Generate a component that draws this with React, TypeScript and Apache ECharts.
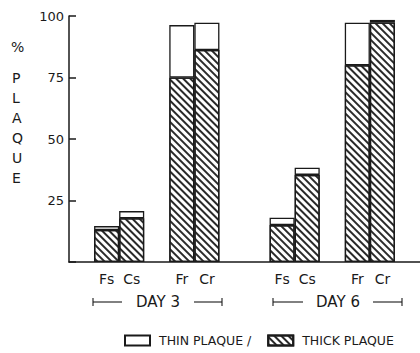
import React, { useEffect, useRef } from "react";
import * as echarts from "echarts";

const categories = ["", "Fs", "Cs", "", "Fr", "Cr", "", "", "Fs", "Cs", "", "Fr", "Cr", ""];
const thickValues: (number | null)[] = [null, 13, 17.8, null, 75, 86.2, null, null, 15, 35.4, null, 80, 97.4, null];
const totalValues: (number | null)[] = [null, 14.6, 20.7, null, 96.3, 97.3, null, null, 18, 38.3, null, 97.3, 98.4, null];
const yTicks = [0, 25, 50, 75, 100];
const groupLabels = ["DAY 3", "DAY 6"];
const seriesNames = ["THIN PLAQUE /", "THICK PLAQUE"];

const thinValues = totalValues.map((t, i) =>
  t == null || thickValues[i] == null ? null : +(t - (thickValues[i] as number)).toFixed(2)
);

const FONT = "DejaVu Sans";
const INK = "#1a1a1a";

export default function App() {
  const ref = useRef<HTMLDivElement>(null);
  useEffect(() => {
    if (!ref.current) return;
    const chart = echarts.init(ref.current, undefined, { renderer: "svg" });
    const hatch = {
      symbol: "rect",
      symbolSize: 1,
      color: "#2a2a2a",
      backgroundColor: "#ffffff",
      dashArrayX: [1, 0],
      dashArrayY: [1.2, 2.2],
      rotation: Math.PI / 4,
    };
    const groupLine = (x1: number, x2: number, y: number) => [
      { type: "line", shape: { x1, y1: y, x2, y2: y }, style: { stroke: INK, lineWidth: 1.1 } },
    ];
    const cap = (x: number, y: number) => ({
      type: "line",
      shape: { x1: x, y1: y - 4, x2: x, y2: y + 4 },
      style: { stroke: INK, lineWidth: 1.1 },
    });
    chart.setOption({
      animation: false,
      grid: { left: 69, top: 16, bottom: 91, right: -7.4, containLabel: false },
      legend: {
        left: 119,
        top: 329,
        itemWidth: 25,
        itemHeight: 10,
        itemGap: 16,
        icon: "rect",
        data: seriesNames,
        textStyle: { fontFamily: FONT, fontSize: 12.5, color: INK, padding: [0, 0, 0, 4] },
        selectedMode: false,
      },
      xAxis: {
        type: "category",
        data: categories,
        axisLine: { lineStyle: { color: INK, width: 1.5 } },
        axisTick: { show: false },
        axisLabel: { fontFamily: FONT, fontSize: 14, color: INK, margin: 10, interval: 0 },
      },
      yAxis: {
        type: "value",
        min: yTicks[0],
        max: yTicks[yTicks.length - 1],
        interval: 25,
        splitLine: { show: false },
        axisLine: { show: true, lineStyle: { color: INK, width: 1.5 } },
        axisTick: { show: true, inside: true, length: 7, lineStyle: { color: INK, width: 1.5 } },
        axisLabel: {
          fontFamily: FONT,
          fontSize: 13,
          color: INK,
          margin: 5,
          formatter: (v: number) => (v === 0 ? "" : String(v)),
        },
      },
      series: [
        {
          name: seriesNames[1],
          type: "bar",
          stack: "p",
          data: thickValues,
          barWidth: "100%",
          itemStyle: { color: "#ffffff", borderColor: INK, borderWidth: 1.3, decal: hatch },
        },
        {
          name: seriesNames[0],
          type: "bar",
          stack: "p",
          data: thinValues,
          barWidth: "100%",
          itemStyle: { color: "#ffffff", borderColor: INK, borderWidth: 1.3 },
        },
      ],
      graphic: [
        { type: "text", left: 11, top: 40, style: { text: "%", fontFamily: FONT, fontSize: 14, fill: INK } },
        {
          type: "text",
          left: 12,
          top: 68,
          style: { text: "P\nL\nA\nQ\nU\nE", fontFamily: FONT, fontSize: 14, lineHeight: 20, fill: INK },
        },
        ...groupLine(93, 122, 302),
        cap(93, 302),
        ...groupLine(194, 222, 302),
        cap(222, 302),
        {
          type: "text",
          x: 158,
          y: 302,
          style: { text: groupLabels[0], fontFamily: FONT, fontSize: 15, fill: INK, align: "center", verticalAlign: "middle" },
        },
        ...groupLine(273, 303, 302),
        cap(273, 302),
        ...groupLine(373, 402, 302),
        cap(402, 302),
        {
          type: "text",
          x: 338,
          y: 302,
          style: { text: groupLabels[1], fontFamily: FONT, fontSize: 15, fill: INK, align: "center", verticalAlign: "middle" },
        },
      ],
    });
    return () => chart.dispose();
  }, []);
  return <div ref={ref} style={{ width: 420, height: 353, position: "absolute", left: 0, top: 0 }} />;
}
